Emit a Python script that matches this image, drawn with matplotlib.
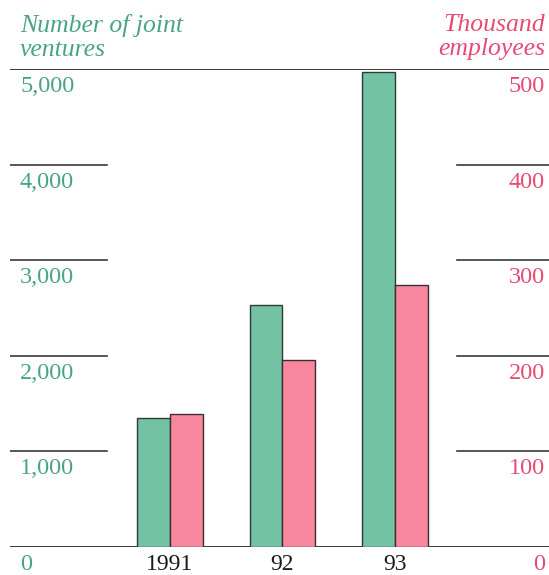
import matplotlib.pyplot as plt

years = ["1991", "92", "93"]
joint_ventures = [1350, 2530, 4970]      # number of joint ventures
employees = [139, 196, 274]              # thousand employees

left_ticks = [0, 1000, 2000, 3000, 4000, 5000]
left_labels = ["0", "1,000", "2,000", "3,000", "4,000", "5,000"]
right_ticks = [0, 100, 200, 300, 400, 500]
right_labels = ["0", "100", "200", "300", "400", "500"]

green = "#72c2a3"
pink = "#f7879f"
green_txt = "#4aa484"
pink_txt = "#e84a74"
line_col = "#3a3a3a"

plt.rcParams['font.family'] = ['Liberation Serif', 'DejaVu Serif']

fig = plt.figure(figsize=(5.49, 5.75), dpi=100)
ax = fig.add_axes([10 / 549, 28 / 575, 539 / 549, 478 / 575])
ax2 = ax.twinx()

for a in (ax, ax2):
    a.set_axis_off()
    a.set_xlim(-1.422, 3.369)
ax.set_ylim(0, 5000)
ax2.set_ylim(0, 500)

w = 0.29
x = list(range(len(years)))
ax.bar([i - w / 2 for i in x], joint_ventures, width=w, color=green,
       edgecolor="#2f3b35", linewidth=1.0, zorder=3)
ax2.bar([i + w / 2 for i in x], employees, width=w, color=pink,
        edgecolor="#3b2f33", linewidth=1.0, zorder=3)

# grid segments at the sides, full lines at top and bottom
for v in left_ticks[1:-1]:
    ax.axhline(v, 0, 97 / 539, color=line_col, lw=1.2)
    ax.axhline(v, 447 / 539, 1, color=line_col, lw=1.2)
ax.axhline(5000, 0, 1, color=line_col, lw=1.4)
ax.axhline(0, 0, 1, color=line_col, lw=1.4)

for v, lab in zip(left_ticks, left_labels):
    ax.annotate(lab, (10 / 539, v), xycoords=("axes fraction", "data"),
                xytext=(0, -5), textcoords="offset points",
                ha="left", va="top", fontsize=17.5, color=green_txt)
for v, lab in zip(right_ticks, right_labels):
    ax2.annotate(lab, (535 / 539, v), xycoords=("axes fraction", "data"),
                 xytext=(0, -5), textcoords="offset points",
                 ha="right", va="top", fontsize=17.5, color=pink_txt)

for i, y in zip(x, years):
    ax.annotate(y, (i, 0), xycoords="data", xytext=(0, -5),
                textcoords="offset points", ha="center", va="top",
                fontsize=17, color="#1a1a1a")

fig.text(20 / 549, 1 - 14 / 575, "Number of joint\nventures", ha="left", va="top",
         fontsize=18.5, style="italic", color=green_txt, linespacing=1.1)
fig.text(545 / 549, 1 - 14 / 575, "Thousand\nemployees", ha="right", va="top",
         fontsize=18.5, style="italic", color=pink_txt, linespacing=1.1)

fig.savefig("out.png", dpi=100)
